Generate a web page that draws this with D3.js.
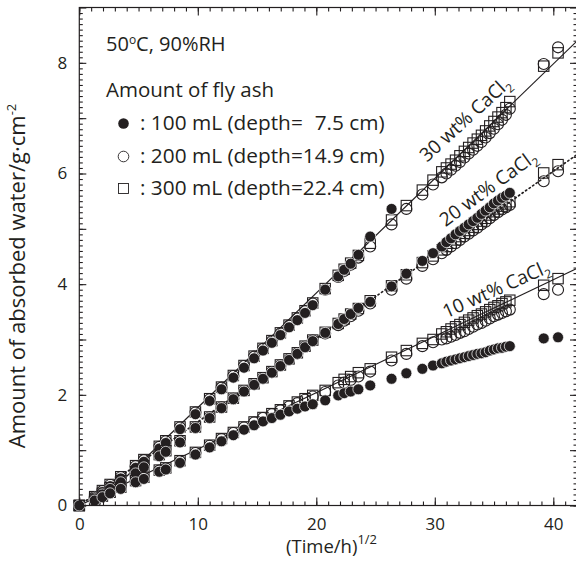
<!DOCTYPE html>
<html>
<head>
<meta charset="utf-8">
<script src="https://cdn.jsdelivr.net/npm/d3@7"></script>
<style>
  html, body { margin: 0; padding: 0; background: #fff; }
  svg { display: block; }
  text { font-family: "Open Sans", sans-serif; fill: #231f20; }
</style>
</head>
<body>
<svg id="chart" width="576" height="566"></svg>
<script>
// (Time/h)^1/2 sampling points shared by every run
const sqrtTime = [0, 1.3, 1.95, 2.6, 3.5, 4.75, 5.45, 6.75, 7.3, 8.5, 9.8, 11.0, 12.0, 13.0, 13.9, 14.75,
  15.5, 16.25, 16.97, 17.7, 18.4, 19.05, 19.7, 20.75, 21.85, 22.35, 22.9, 23.55, 24.55, 26.35, 27.6,
  28.95, 29.85, 30.59, 30.98, 31.37, 31.75, 32.12, 32.5, 32.86, 33.23, 33.59, 33.94, 34.29, 34.64,
  34.99, 35.33, 35.67, 36.0, 36.33, 39.19, 40.4];

// Absorbed water (g/cm2), 30 wt% CaCl2
const cacl30_100 = [0, 0.14, 0.24, 0.35, 0.49, 0.68, 0.79, 1.03, 1.13, 1.38, 1.65, 1.89, 2.1, 2.31, 2.49,
  2.66, 2.8, 2.94, 3.08, 3.22, 3.35, 3.48, 3.62, 3.9, 4.14, 4.26, 4.37, 4.53, 4.86, 5.36];
const cacl30_200 = [0, 0.15, 0.26, 0.37, 0.51, 0.71, 0.82, 1.06, 1.16, 1.41, 1.68, 1.92, 2.13, 2.34, 2.52,
  2.69, 2.83, 2.97, 3.11, 3.25, 3.38, 3.51, 3.65, 3.9, 4.13, 4.24, 4.35, 4.48, 4.68, 5.08, 5.36, 5.62,
  5.8, 5.93, 6.0, 6.07, 6.14, 6.21, 6.29, 6.36, 6.43, 6.5, 6.57, 6.65, 6.73, 6.81, 6.89, 6.97, 7.06,
  7.17, 7.98, 8.28];
const cacl30_300 = [0, 0.16, 0.27, 0.38, 0.52, 0.72, 0.83, 1.07, 1.17, 1.42, 1.69, 1.93, 2.14, 2.35, 2.53,
  2.7, 2.84, 2.98, 3.12, 3.26, 3.39, 3.52, 3.66, 3.92, 4.16, 4.27, 4.38, 4.52, 4.74, 5.16, 5.42, 5.7,
  5.88, 6.03, 6.1, 6.17, 6.24, 6.32, 6.4, 6.47, 6.55, 6.62, 6.69, 6.77, 6.86, 6.94, 7.02, 7.1, 7.19,
  7.3, 7.94, 8.18];

// Absorbed water (g/cm2), 20 wt% CaCl2
const cacl20_100 = [0, 0.11, 0.2, 0.3, 0.42, 0.58, 0.69, 0.89, 0.97, 1.14, 1.4, 1.58, 1.76, 1.92, 2.06,
  2.18, 2.29, 2.4, 2.52, 2.63, 2.74, 2.86, 2.97, 3.12, 3.28, 3.37, 3.46, 3.57, 3.68, 3.96, 4.19, 4.42,
  4.56, 4.68, 4.76, 4.83, 4.9, 4.96, 5.02, 5.08, 5.14, 5.2, 5.27, 5.33, 5.39, 5.46, 5.51, 5.56, 5.6, 5.65];
const cacl20_200 = [0, 0.12, 0.21, 0.31, 0.44, 0.6, 0.71, 0.91, 0.98, 1.16, 1.41, 1.59, 1.77, 1.93, 2.07,
  2.19, 2.3, 2.41, 2.53, 2.64, 2.75, 2.87, 2.98, 3.11, 3.26, 3.34, 3.42, 3.52, 3.65, 3.9, 4.1, 4.33,
  4.45, 4.56, 4.62, 4.68, 4.74, 4.8, 4.86, 4.91, 4.97, 5.02, 5.08, 5.13, 5.19, 5.25, 5.3, 5.35, 5.39,
  5.43, 5.86, 6.04];
const cacl20_300 = [0, 0.13, 0.22, 0.32, 0.45, 0.61, 0.72, 0.92, 0.99, 1.17, 1.42, 1.6, 1.78, 1.94, 2.08,
  2.2, 2.31, 2.42, 2.54, 2.65, 2.76, 2.88, 2.99, 3.13, 3.29, 3.37, 3.46, 3.56, 3.7, 3.97, 4.17, 4.39,
  4.51, 4.62, 4.68, 4.74, 4.8, 4.86, 4.92, 4.97, 5.03, 5.08, 5.14, 5.19, 5.25, 5.31, 5.36, 5.41, 5.45,
  5.49, 6.01, 6.16];

// Absorbed water (g/cm2), 10 wt% CaCl2
const cacl10_100 = [0, 0.09, 0.15, 0.22, 0.3, 0.42, 0.48, 0.61, 0.65, 0.77, 0.92, 1.05, 1.16, 1.27, 1.37,
  1.45, 1.52, 1.58, 1.64, 1.7, 1.75, 1.79, 1.83, 1.9, 1.99, 2.03, 2.06, 2.1, 2.17, 2.29, 2.39, 2.47,
  2.53, 2.57, 2.6, 2.62, 2.64, 2.66, 2.68, 2.7, 2.72, 2.74, 2.75, 2.77, 2.8, 2.82, 2.84, 2.85, 2.87,
  2.88, 3.02, 3.04];
const cacl10_200 = [0, 0.1, 0.16, 0.23, 0.32, 0.44, 0.5, 0.63, 0.67, 0.8, 0.95, 1.08, 1.2, 1.31, 1.41,
  1.5, 1.58, 1.65, 1.72, 1.79, 1.85, 1.91, 1.97, 2.05, 2.17, 2.22, 2.27, 2.33, 2.42, 2.62, 2.74, 2.88,
  2.95, 3.0, 3.02, 3.05, 3.08, 3.12, 3.15, 3.19, 3.23, 3.27, 3.3, 3.34, 3.38, 3.42, 3.45, 3.48, 3.51,
  3.54, 3.82, 3.9];
const cacl10_300 = [0, 0.1, 0.17, 0.24, 0.33, 0.45, 0.51, 0.64, 0.68, 0.81, 0.96, 1.09, 1.21, 1.32, 1.42,
  1.51, 1.59, 1.66, 1.73, 1.8, 1.87, 1.93, 1.99, 2.08, 2.22, 2.28, 2.33, 2.4, 2.47, 2.68, 2.8, 2.93,
  3.0, 3.1, 3.14, 3.19, 3.23, 3.27, 3.31, 3.35, 3.39, 3.43, 3.46, 3.5, 3.54, 3.58, 3.61, 3.65, 3.68,
  3.71, 3.98, 4.1];

// Straight fits per CaCl2 concentration: water = slope * x + intercept
const concLabels = ["30 wt% CaCl", "20 wt% CaCl", "10 wt% CaCl"];
const fitSlope = [0.207, 0.151, 0.102];
const fitIntercept = [-0.30, 0, 0];
const fitDotted = [false, true, false];

const xTickLabels = [0, 10, 20, 30, 40];
const yTickLabels = [0, 2, 4, 6, 8];
const legendTitle = "Amount of fly ash";
const legendItems = [": 100 mL (depth=\u20077.5 cm)", ": 200 mL (depth=14.9 cm)", ": 300 mL (depth=22.4 cm)"];

const ink = "#231f20";
const svg = d3.select("#chart");
svg.append("rect").attr("width", 576).attr("height", 566).attr("fill", "#fff");

const x = d3.scaleLinear().domain([0, 42]).range([79.3, 577]);
const y = d3.scaleLinear().domain([0, 9]).range([505.5, 7.5]);

const [x0, x1] = x.range();
const [y0, y1] = y.range();

svg.append("defs").append("clipPath").attr("id", "plotClip")
  .append("rect").attr("x", x0).attr("y", y1).attr("width", x1 - x0).attr("height", y0 - y1);

// Fitted lines
const plot = svg.append("g");
const lineGen = d3.line().x(d => x(d[0])).y(d => y(d[1]));
fitSlope.forEach((s, i) => {
  const b = fitIntercept[i];
  const xs = Math.max(0, -b / s);
  const xe = x.domain()[1];
  plot.append("path")
    .attr("d", lineGen([[xs, s * xs + b], [xe, s * xe + b]]))
    .attr("clip-path", "url(#plotClip)")
    .attr("fill", "none")
    .attr("stroke", ink)
    .attr("stroke-width", fitDotted[i] ? 1.7 : 1.2)
    .attr("stroke-dasharray", fitDotted[i] ? "1.3,3" : null)
    .attr("stroke-linecap", fitDotted[i] ? "round" : "butt");
});

// Markers
const groups = [
  { filled: cacl30_100, open: cacl30_200, square: cacl30_300 },
  { filled: cacl20_100, open: cacl20_200, square: cacl20_300 },
  { filled: cacl10_100, open: cacl10_200, square: cacl10_300 }
];
const pts = arr => arr.map((v, i) => [sqrtTime[i], v]);
const side = 10.4, rad = 5.5;

function drawSquares(g, data) {
  g.selectAll(null).data(data).join("rect")
    .attr("x", d => x(d[0]) - side / 2).attr("y", d => y(d[1]) - side / 2)
    .attr("width", side).attr("height", side)
    .attr("fill", "none").attr("stroke", ink).attr("stroke-width", 1.1);
}
function drawOpen(g, data) {
  g.selectAll(null).data(data).join("circle")
    .attr("cx", d => x(d[0])).attr("cy", d => y(d[1])).attr("r", rad)
    .attr("fill", "none").attr("stroke", ink).attr("stroke-width", 1.1);
}
function drawFilled(g, data) {
  g.selectAll(null).data(data).join("circle")
    .attr("cx", d => x(d[0])).attr("cy", d => y(d[1])).attr("r", rad)
    .attr("fill", ink).attr("stroke", "#fff").attr("stroke-width", 0.7);
}
groups.forEach(gr => {
  const g = plot.append("g");
  drawSquares(g, pts(gr.square));
  drawOpen(g, pts(gr.open));
  drawFilled(g, pts(gr.filled));
});

// Axes with inward ticks on all four sides
const axisStyle = sel => {
  sel.select(".domain").remove();
  sel.selectAll("line").attr("stroke", ink).attr("stroke-width", 1.1);
  sel.selectAll("text").style("font-size", "17px").attr("fill", ink);
};
const xMinor = d3.range(0, 43, 1);
const yMinor = d3.range(0, 90, 1).map(v => v / 10);
const yMid = d3.range(0, 10, 1);

svg.append("g").attr("transform", `translate(0,${y0})`)
  .call(d3.axisBottom(x).tickValues(xMinor).tickSize(-4).tickFormat(""))
  .call(axisStyle);
svg.append("g").attr("transform", `translate(0,${y0})`)
  .call(d3.axisBottom(x).tickValues(xTickLabels).tickSize(-8).tickPadding(12.5).tickFormat(d3.format("d")))
  .call(axisStyle);
svg.append("g").attr("transform", `translate(0,${y1})`)
  .call(d3.axisTop(x).tickValues(xMinor).tickSize(-4).tickFormat(""))
  .call(axisStyle);
svg.append("g").attr("transform", `translate(0,${y1})`)
  .call(d3.axisTop(x).tickValues(xTickLabels).tickSize(-8).tickFormat(""))
  .call(axisStyle);

svg.append("g").attr("transform", `translate(${x0},0)`)
  .call(d3.axisLeft(y).tickValues(yMinor).tickSize(-3.5).tickFormat(""))
  .call(axisStyle);
svg.append("g").attr("transform", `translate(${x0},0)`)
  .call(d3.axisLeft(y).tickValues(yMid).tickSize(-7).tickFormat(""))
  .call(axisStyle);
svg.append("g").attr("transform", `translate(${x0},0)`)
  .call(d3.axisLeft(y).tickValues(yTickLabels).tickSize(0).tickPadding(12).tickFormat(d3.format("d")))
  .call(axisStyle);
svg.append("g").attr("transform", `translate(${x1},0)`)
  .call(d3.axisRight(y).tickValues(yMinor).tickSize(-3.5).tickFormat(""))
  .call(axisStyle);
svg.append("g").attr("transform", `translate(${x1},0)`)
  .call(d3.axisRight(y).tickValues(yMid).tickSize(-7).tickFormat(""))
  .call(axisStyle);

// Frame
svg.append("rect")
  .attr("x", x0).attr("y", y1).attr("width", x1 - x0).attr("height", y0 - y1)
  .attr("fill", "none").attr("stroke", ink).attr("stroke-width", 1.2);

// Axis titles
const xt = svg.append("text").attr("x", 286).attr("y", 553).style("font-size", "18.5px");
xt.append("tspan").text("(Time/h)");
xt.append("tspan").attr("dy", -9).style("font-size", "13px").text("1/2");

const yt = svg.append("text")
  .attr("transform", "translate(25,276) rotate(-90)")
  .attr("text-anchor", "middle").style("font-size", "22px");
yt.append("tspan").text("Amount of absorbed water/g\u00b7cm");
yt.append("tspan").attr("dy", -9).style("font-size", "13px").text("-2");

// Concentration labels along the fitted lines
const concPos = [[465, 119, -42.5], [488, 188, -36], [496, 289, -24]];
concLabels.forEach((lab, i) => {
  const [cx, cy, a] = concPos[i];
  const t = svg.append("text")
    .attr("transform", `translate(${cx},${cy}) rotate(${a})`)
    .attr("text-anchor", "middle").attr("dy", "0.35em")
    .style("font-size", "19px");
  t.append("tspan").text(lab);
  t.append("tspan").attr("dy", 5).style("font-size", "12px").text("2");
});

// Conditions and legend
const cond = svg.append("text").attr("x", 106).attr("y", 51).style("font-size", "20px");
cond.append("tspan").text("50");
cond.append("tspan").attr("dy", -7).style("font-size", "12px").text("o");
cond.append("tspan").attr("dy", 7).text("C, 90%RH");

svg.append("text").attr("x", 106).attr("y", 97).style("font-size", "20.5px").text(legendTitle);

const rowBase = [130, 163, 195];
legendItems.forEach((lab, i) => {
  const by = rowBase[i];
  const my = by - 6.5;
  if (i === 0) {
    svg.append("circle").attr("cx", 123.5).attr("cy", my).attr("r", 5.3).attr("fill", ink);
  } else if (i === 1) {
    svg.append("circle").attr("cx", 123.5).attr("cy", my).attr("r", 5.3)
      .attr("fill", "none").attr("stroke", ink).attr("stroke-width", 0.9);
  } else {
    svg.append("rect").attr("x", 123.5 - 5).attr("y", my - 5).attr("width", 10).attr("height", 10)
      .attr("fill", "none").attr("stroke", ink).attr("stroke-width", 0.9);
  }
  svg.append("text").attr("x", 140).attr("y", by).style("font-size", "20.8px").text(lab);
});
</script>
</body>
</html>
